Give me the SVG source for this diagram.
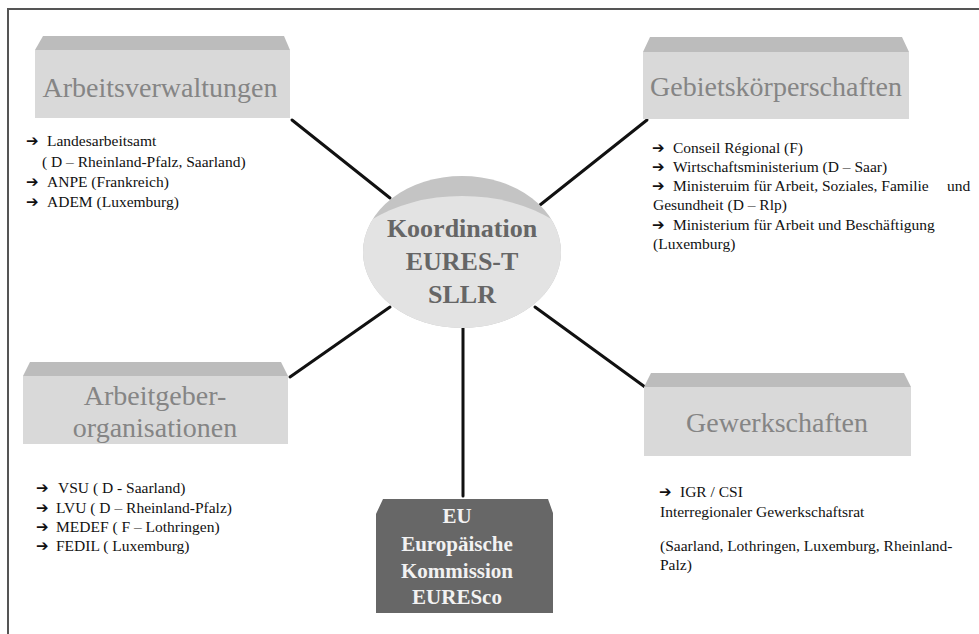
<svg xmlns="http://www.w3.org/2000/svg" width="979" height="634" viewBox="0 0 979 634">
<style>
.head{font-family:"Liberation Serif","Times New Roman",serif;font-size:28px;fill:#858585;text-anchor:middle}
.bx{fill:#d9d9d9}
.bv{fill:#bcbcbc}
.item{font-family:"Liberation Serif","Times New Roman",serif;font-size:15.5px;fill:#111}
.arr{font-family:"DejaVu Sans",sans-serif;font-size:15px;font-weight:bold}
.conn line{stroke:#111;stroke-width:3;stroke-linecap:round}
.ctr{font-family:"Liberation Serif","Times New Roman",serif;font-size:26px;font-weight:bold;fill:#666;text-anchor:middle}
.eu{font-family:"Liberation Serif","Times New Roman",serif;font-size:21px;font-weight:bold;fill:#f2f2f2;text-anchor:middle}
</style>
<defs>
<clipPath id="oval"><ellipse cx="462" cy="252" rx="99" ry="76"/></clipPath>
</defs>
<rect x="0" y="0" width="979" height="634" fill="#ffffff"/>
<path d="M8 634 V9 H979" fill="none" stroke="#555" stroke-width="2"/>

<g id="connectors" class="conn">
<line x1="292" y1="120" x2="390" y2="198"/>
<line x1="647" y1="120" x2="540" y2="205"/>
<line x1="390" y1="307" x2="290" y2="377"/>
<line x1="463" y1="328" x2="463" y2="496"/>
<line x1="535" y1="307" x2="645" y2="387"/>
</g>

<g id="arbeitsverwaltungen">
<polygon class="bv" points="43,36 284,36 290,50 35,50"/>
<rect class="bx" x="35" y="50" width="255" height="68"/>
<text class="head" x="160" y="97">Arbeitsverwaltungen</text>
<text class="item"><tspan class="arr" x="26" y="146">➔</tspan><tspan x="47" y="146">Landesarbeitsamt</tspan></text>
<text class="item" x="42" y="167">( D – Rheinland-Pfalz, Saarland)</text>
<text class="item"><tspan class="arr" x="26" y="187">➔</tspan><tspan x="47" y="187">ANPE (Frankreich)</tspan></text>
<text class="item"><tspan class="arr" x="26" y="207">➔</tspan><tspan x="47" y="207">ADEM (Luxemburg)</tspan></text>
</g>

<g id="gebietskoerperschaften">
<polygon class="bv" points="650,37 902,37 909,52 643,52"/>
<rect class="bx" x="643" y="52" width="266" height="67"/>
<text class="head" x="776" y="96">Gebietskörperschaften</text>
<text class="item"><tspan class="arr" x="652" y="153">➔</tspan><tspan x="673" y="153">Conseil Régional (F)</tspan></text>
<text class="item"><tspan class="arr" x="652" y="172">➔</tspan><tspan x="673" y="172">Wirtschaftsministerium (D – Saar)</tspan></text>
<text class="item"><tspan class="arr" x="652" y="191">➔</tspan><tspan x="673" y="191">Ministeruim für Arbeit, Soziales, Familie</tspan><tspan x="947" y="191">und</tspan></text>
<text class="item" x="653" y="210">Gesundheit (D – Rlp)</text>
<text class="item"><tspan class="arr" x="652" y="230">➔</tspan><tspan x="673" y="230">Ministerium für Arbeit und Beschäftigung</tspan></text>
<text class="item" x="653" y="249">(Luxemburg)</text>
</g>

<g id="koordination">
<ellipse cx="462" cy="252" rx="99" ry="76" fill="#c4c4c4"/>
<ellipse cx="462" cy="280" rx="130" ry="84" fill="#e3e3e3" clip-path="url(#oval)"/>
<text class="ctr" x="462" y="237">Koordination</text>
<text class="ctr" x="462" y="270">EURES-T</text>
<text class="ctr" x="462" y="303">SLLR</text>
</g>

<g id="arbeitgeberorganisationen">
<polygon class="bv" points="30,362 281,362 288,376 23,376"/>
<rect class="bx" x="23" y="376" width="265" height="68"/>
<text class="head" x="155" y="405">Arbeitgeber-</text>
<text class="head" x="155" y="437">organisationen</text>
<text class="item"><tspan class="arr" x="36" y="493">➔</tspan><tspan x="58" y="493">VSU  ( D - Saarland)</tspan></text>
<text class="item"><tspan class="arr" x="36" y="513">➔</tspan><tspan x="56" y="513">LVU  ( D – Rheinland-Pfalz)</tspan></text>
<text class="item"><tspan class="arr" x="36" y="532">➔</tspan><tspan x="56" y="532">MEDEF  ( F – Lothringen)</tspan></text>
<text class="item"><tspan class="arr" x="36" y="551">➔</tspan><tspan x="56" y="551">FEDIL  ( Luxemburg)</tspan></text>
</g>

<g id="eu">
<polygon points="383,499 548,499 553,513 553,613 376,613 376,514" fill="#676767"/>
<text class="eu" x="457" y="523">EU</text>
<text class="eu" x="457" y="551">Europäische</text>
<text class="eu" x="457" y="578">Kommission</text>
<text class="eu" x="457" y="604">EURESco</text>
</g>

<g id="gewerkschaften">
<polygon class="bv" points="651,373 904,373 911,387 644,387"/>
<rect class="bx" x="644" y="387" width="267" height="69"/>
<text class="head" x="777" y="432">Gewerkschaften</text>
<text class="item"><tspan class="arr" x="659" y="497">➔</tspan><tspan x="680" y="497">IGR / CSI</tspan></text>
<text class="item" x="660" y="517">Interregionaler Gewerkschaftsrat</text>
<text class="item" x="660" y="551">(Saarland, Lothringen, Luxemburg, Rheinland-</text>
<text class="item" x="660" y="570">Palz)</text>
</g>
</svg>
